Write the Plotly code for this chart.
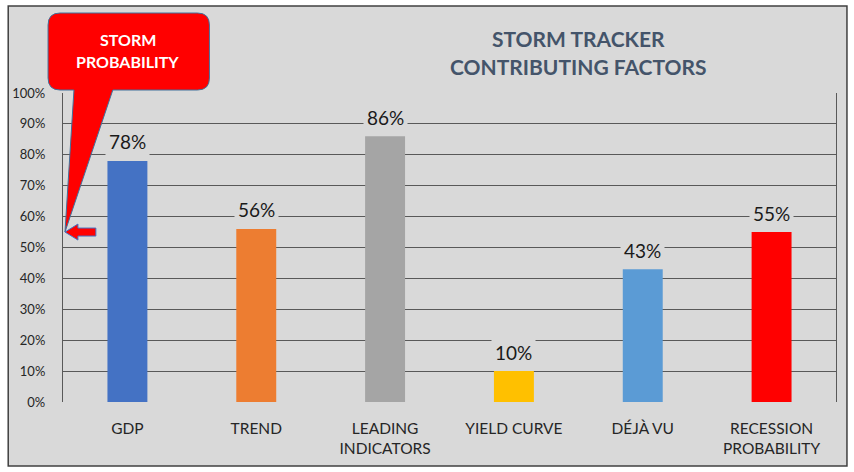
import plotly.graph_objects as go

categories = ["GDP", "TREND", "LEADING<br>INDICATORS", "YIELD CURVE", "DÉJÀ VU", "RECESSION<br>PROBABILITY"]
values = [0.78, 0.56, 0.86, 0.10, 0.43, 0.55]
bar_colors = ["#4472C4", "#ED7D31", "#A5A5A5", "#FFC000", "#5B9BD5", "#FF0000"]
title_lines = ["STORM TRACKER", "CONTRIBUTING FACTORS"]
callout_lines = ["STORM", "PROBABILITY"]
storm_probability = 0.55

W, H = 854, 472
L, R, T, B = 60, 18, 93, 70
PW, PH = W - L - R, H - T - B
BG = "#D9D9D9"
FONT = "Lato, 'Open Sans', sans-serif"


def px(x):
    return (x - L) / PW


def py(y):
    return (H - B - y) / PH


fig = go.Figure()
fig.add_trace(go.Bar(x=categories, y=values, marker=dict(color=bar_colors, line=dict(width=0)),
                     hoverinfo="skip"))

for c, v in zip(categories, values):
    fig.add_annotation(x=c, y=v, text=f"{round(v * 100)}%", showarrow=False,
                       yanchor="middle", yshift=19, bgcolor=BG, borderpad=3,
                       font=dict(family=FONT, size=19, color="#1a1a1a"))

shapes = []
# outer frame / background
shapes.append(dict(type="rect", xref="paper", yref="paper", x0=px(5), x1=px(847), y0=py(466), y1=py(6),
                   fillcolor=BG, line=dict(color="#404040", width=1.5), layer="below"))


# callout (rounded rect + pointer)
def callout_path():
    x0, x1, y0, y1, r = 45, 207, 13, 90, 12
    tip = (62, 232)
    pts = []
    pts.append(f"M{px(x0 + r)},{py(y0)}")
    pts.append(f"L{px(x1 - r)},{py(y0)}")
    pts.append(f"Q{px(x1)},{py(y0)} {px(x1)},{py(y0 + r)}")
    pts.append(f"L{px(x1)},{py(y1 - r)}")
    pts.append(f"Q{px(x1)},{py(y1)} {px(x1 - r)},{py(y1)}")
    pts.append(f"L{px(110)},{py(y1)}")
    pts.append(f"L{px(tip[0])},{py(tip[1])}")
    pts.append(f"L{px(71)},{py(y1)}")
    pts.append(f"L{px(x0 + r)},{py(y1)}")
    pts.append(f"Q{px(x0)},{py(y1)} {px(x0)},{py(y1 - r)}")
    pts.append(f"L{px(x0)},{py(y0 + r)}")
    pts.append(f"Q{px(x0)},{py(y0)} {px(x0 + r)},{py(y0)}")
    pts.append("Z")
    return " ".join(pts)


shapes.append(dict(type="path", xref="paper", yref="paper", path=callout_path(),
                   fillcolor="#FF0000", line=dict(color="#41719C", width=1), layer="above"))


# small left arrow pointing at the storm probability level (y in data units)
def arrow_path():
    pts = [(62, 0), (75, -8), (75, -4), (93, -4), (93, 4), (75, 4), (75, 8)]
    s = []
    for i, (x, dy) in enumerate(pts):
        s.append(("M" if i == 0 else "L") + f"{px(x)},{storm_probability - dy / PH}")
    s.append("Z")
    return " ".join(s)


shapes.append(dict(type="path", xref="paper", yref="y", path=arrow_path(),
                   fillcolor="#FF0000", line=dict(color="#4472C4", width=1), layer="above"))

fig.update_layout(shapes=shapes)

for t, yy in zip(title_lines, [38, 67]):
    fig.add_annotation(xref="paper", yref="paper", x=px(578), y=py(yy), text=f"<b>{t}</b>",
                       showarrow=False, xanchor="center", yanchor="middle",
                       font=dict(family=FONT, size=21, color="#44546A"))

for t, yy in zip(callout_lines, [40, 62]):
    fig.add_annotation(xref="paper", yref="paper", x=px(125), y=py(yy), text=f"<b>{t}</b>",
                       showarrow=False, xanchor="center", yanchor="middle",
                       font=dict(family=FONT, size=16, color="#FFFFFF"))

fig.update_layout(
    width=W, height=H,
    margin=dict(l=L, r=R, t=T, b=B, pad=0),
    paper_bgcolor="#FFFFFF",
    plot_bgcolor="rgba(0,0,0,0)",
    bargap=0.69,
    showlegend=False,
    font=dict(family=FONT),
    xaxis=dict(showgrid=False, zeroline=False, showline=True, linecolor=BG, linewidth=1,
               ticks="", tickfont=dict(family=FONT, size=15.5, color="#262626"),
               ticklabelstandoff=12, fixedrange=True),
    yaxis=dict(range=[0, 1], dtick=0.1, tick0=0, tickformat=".0%", showgrid=True,
               gridcolor="#595959", gridwidth=1.2, zeroline=False, showline=True, mirror=True,
               linecolor="#595959", linewidth=1.2, ticks="",
               tickfont=dict(family=FONT, size=13, color="#262626"),
               ticklabelstandoff=14, fixedrange=True),
)

fig.write_html("out.html", config={"displayModeBar": False},
               post_script="document.body.style.margin='0';document.body.style.padding='0';")
